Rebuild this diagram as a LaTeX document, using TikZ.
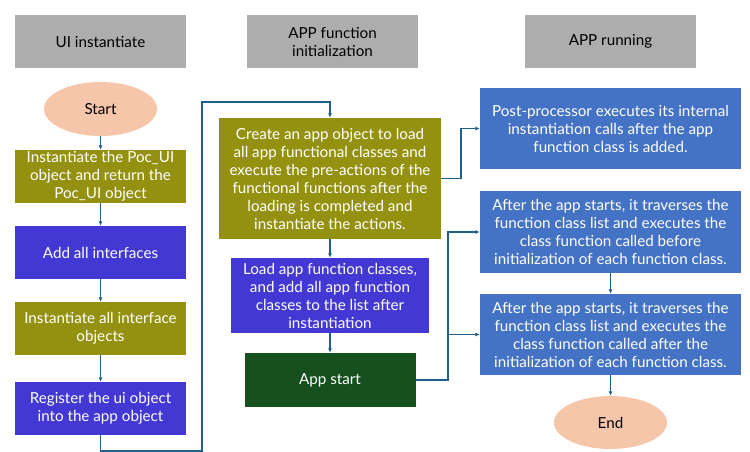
\documentclass[tikz,border=0pt]{standalone}
\usepackage{fontspec}
\setmainfont{Lato}
\usetikzlibrary{arrows.meta,shapes.geometric}
\definecolor{hdr}{HTML}{ADADAD}
\definecolor{olive}{HTML}{959110}
\definecolor{purp}{HTML}{4338D4}
\definecolor{offblue}{HTML}{4472C4}
\definecolor{dgreen}{HTML}{17501F}
\definecolor{peach}{HTML}{F6C6AA}
\definecolor{conn}{HTML}{1F5F8B}
\tikzset{
  base/.style={inner sep=1pt, align=center, font=\fontsize{15.2}{18}\selectfont},
  header/.style={base, fill=hdr, text=black},
  stepbox/.style={base, text=white},
  oval/.style={base, ellipse, fill=peach, text=black, minimum width=113pt, minimum height=54pt},
  conline/.style={draw=conn, line width=1.1pt, -{Latex[length=4.5pt,width=4pt]}},
}
\begin{document}
\begin{tikzpicture}[x=1pt,y=-1pt]
\useasboundingbox (0,0) rectangle (750,452);
% headers
\node[header, minimum width=171pt, minimum height=53pt] (h1) at (100.5,41.5) {UI instantiate};
\node[header, minimum width=171pt, minimum height=53pt] (h2) at (332.5,41.5) {APP function\\initialization};
\node[header, minimum width=171pt, minimum height=53pt] (h3) at (610.5,41.5) {APP running};
% column 1
\node[oval] (start) at (100.5,109) {Start};
\node[stepbox, fill=olive, minimum width=171pt, minimum height=53pt] (b1) at (100.5,176.5) {Instantiate the Poc\_UI\\object and return the\\Poc\_UI object};
\node[stepbox, fill=purp, minimum width=171pt, minimum height=53pt] (b2) at (100.5,252.5) {Add all interfaces};
\node[stepbox, fill=olive, minimum width=171pt, minimum height=53pt] (b3) at (100.5,328.5) {Instantiate all interface\\objects};
\node[stepbox, fill=purp, minimum width=171pt, minimum height=53pt] (b4) at (100.5,408.5) {Register the ui object\\into the app object};
% column 2
\node[stepbox, fill=olive, minimum width=222pt, minimum height=121pt] (c1) at (330,178.5) {Create an app object to load\\all app functional classes and\\execute the pre-actions of the\\functional functions after the\\loading is completed and\\instantiate the actions.};
\node[stepbox, fill=purp, minimum width=198pt, minimum height=75pt] (c2) at (330,295.5) {Load app function classes,\\and add all app function\\classes to the list after\\instantiation};
\node[stepbox, fill=dgreen, minimum width=171pt, minimum height=54pt] (c3) at (330,380) {App start};
% column 3
\node[stepbox, fill=offblue, minimum width=261pt, minimum height=81pt] (r1) at (610.5,128.5) {Post-processor executes its internal\\instantiation calls after the app\\function class is added.};
\node[stepbox, fill=offblue, minimum width=261pt, minimum height=82pt] (r2) at (610.5,232) {After the app starts, it traverses the\\function class list and executes the\\class function called before\\initialization of each function class.};
\node[stepbox, fill=offblue, minimum width=261pt, minimum height=81pt] (r3) at (610.5,334.5) {After the app starts, it traverses the\\function class list and executes the\\class function called after the\\initialization of each function class.};
\node[oval, minimum height=53pt] (end) at (610.5,422.5) {End};
% routing coordinates
\coordinate (p1) at (202,451);
\coordinate (p2) at (202,102);
\coordinate (q1) at (461,178.5);
\coordinate (q2) at (448,380);
% connectors
\draw[conline] (start) -- (b1);
\draw[conline] (b1) -- (b2);
\draw[conline] (b2) -- (b3);
\draw[conline] (b3) -- (b4);
\draw[conline] (b4.south) |- (p1) -- (p2) -| (c1.north);
\draw[conline] (c1) -- (c2);
\draw[conline] (c2) -- (c3);
\draw[conline] (c1.east) -- (q1) |- (r1.west);
\draw[conline] (c3.east) -- (q2) |- (r2.west);
\draw[conline] (q2) |- (r3.west);
\draw[conline] (r2) -- (r3);
\draw[conline] (r3) -- (end);
\end{tikzpicture}
\end{document}
